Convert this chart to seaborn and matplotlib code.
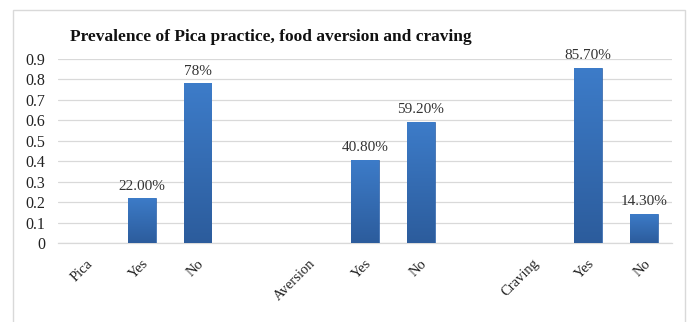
import matplotlib
matplotlib.use("Agg")
import matplotlib.pyplot as plt
import seaborn as sns
import numpy as np
import pandas as pd
from matplotlib.patches import Rectangle
from matplotlib.colors import LinearSegmentedColormap

categories = ["Pica", "Yes", "No", "", "Aversion", "Yes", "No", "", "Craving", "Yes", "No"]
values = [np.nan, 0.22, 0.78, np.nan, np.nan, 0.408, 0.592, np.nan, np.nan, 0.857, 0.143]
value_labels = ["", "22.00%", "78%", "", "", "40.80%", "59.20%", "", "", "85.70%", "14.30%"]
yticks = [0, 0.1, 0.2, 0.3, 0.4, 0.5, 0.6, 0.7, 0.8, 0.9]
ytick_labels = ["0", "0.1", "0.2", "0.3", "0.4", "0.5", "0.6", "0.7", "0.8", "0.9"]
title = "Prevalence of Pica practice, food aversion and craving"

sns.set_style("white")
plt.rcParams['font.family'] = ['Liberation Serif', 'DejaVu Serif']

keys = [f"k{i}" for i in range(len(categories))]
df = pd.DataFrame({"key": keys, "value": values})

fig = plt.figure(figsize=(6.91, 3.22), dpi=100)
ax = fig.add_axes([0.084, 0.245, 0.888, 0.572])

sns.barplot(data=df, x="key", y="value", order=keys, color="#3470BC",
            width=0.5, saturation=1, ax=ax, edgecolor="#2F63A8", linewidth=0.5, zorder=3)

ax.set_ylim(0, 0.9)
ax.set_xlim(-0.5, len(keys) - 0.5)

# vertical gradient fill on each bar
cmap = LinearSegmentedColormap.from_list("bargrad", ["#2C5C9C", "#3D7CC9"])
grad = np.linspace(0, 1, 256).reshape(-1, 1)
for p in list(ax.patches):
    h = p.get_height()
    if not np.isfinite(h) or h <= 0:
        continue
    x0 = p.get_x()
    w = p.get_width()
    im = ax.imshow(grad, cmap=cmap, origin="lower", aspect="auto",
                   extent=[x0, x0 + w, 0, h], zorder=3.5)
    im.set_clip_path(p)
ax.set_xlim(-0.5, len(keys) - 0.5)
ax.set_ylim(0, 0.9)

ax.set_yticks(yticks)
ax.set_yticklabels(ytick_labels, fontsize=11.5, color="#222222")
ax.set_xticks(range(len(keys)))
ax.set_xticklabels(categories, rotation=45, ha="right", rotation_mode="anchor",
                   fontsize=10.5, color="#222222")
ax.tick_params(axis="x", length=0, pad=10)
ax.tick_params(axis="y", length=0, pad=9)
ax.set_xlabel("")
ax.set_ylabel("")
ax.yaxis.grid(True, color="#D9D9D9", linewidth=0.9, zorder=0)
for s in ["top", "right", "left"]:
    ax.spines[s].set_visible(False)
ax.spines["bottom"].set_color("#D9D9D9")
ax.spines["bottom"].set_linewidth(0.9)

for i, (v, lab) in enumerate(zip(values, value_labels)):
    if lab:
        ax.annotate(lab, xy=(i, v), xytext=(0, 4), textcoords="offset points",
                    ha="center", va="bottom", fontsize=11, color="#333333", zorder=5)

fig.text(0.101, 0.885, title, fontsize=12.5, fontweight="bold", color="#111111",
         ha="left", va="center")

fig.patches.append(Rectangle((0.019, -0.01), 0.972, 0.98, transform=fig.transFigure,
                             fill=False, edgecolor="#D9D9D9", linewidth=1.0))

fig.savefig("out.png", dpi=100)
